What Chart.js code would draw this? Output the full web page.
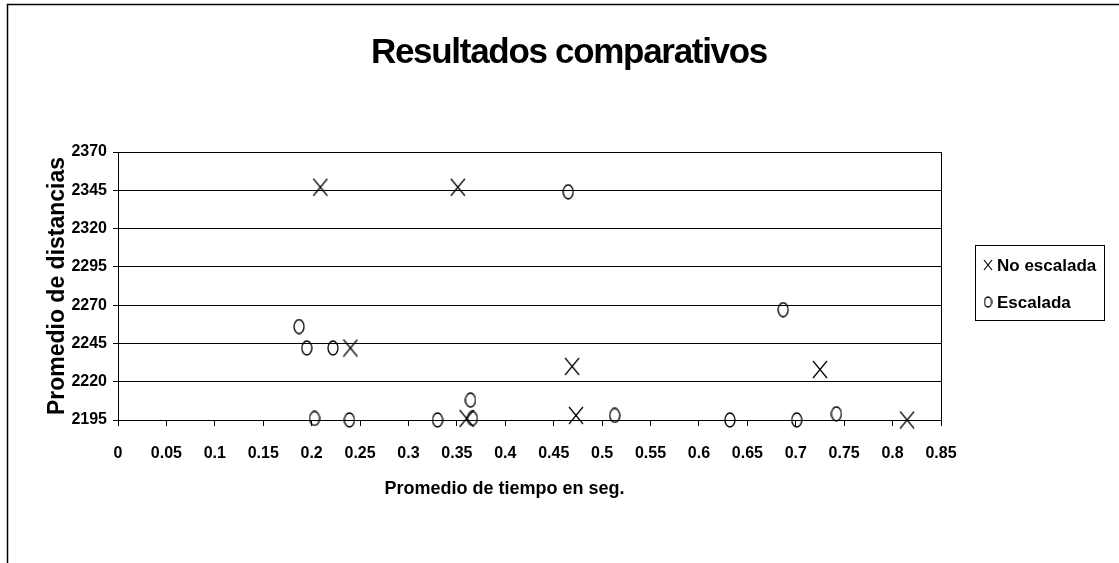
<!DOCTYPE html>
<html lang="es">
<head>
<meta charset="UTF-8">
<title>Resultados comparativos</title>
<script src="https://cdn.jsdelivr.net/npm/chart.js"></script>
<style>
  html, body { margin: 0; padding: 0; background: #fff; }
  #wrap { width: 1119px; height: 563px; position: relative; }
</style>
</head>
<body>
<div id="wrap"><canvas id="chart"></canvas></div>
<script>
// values
var noEscaladaX = [0.209, 0.351, 0.240, 0.469, 0.360, 0.473, 0.725, 0.815];
var noEscaladaY = [2347, 2347, 2242, 2230, 2196, 2198, 2228, 2195];
var escaladaX = [0.465, 0.187, 0.195, 0.222, 0.203, 0.239, 0.330, 0.364, 0.366, 0.513, 0.687, 0.632, 0.701, 0.742];
var escaladaY = [2344, 2256, 2242, 2242, 2196, 2195, 2195, 2208, 2196, 2198, 2267, 2195, 2195, 2199];
var seriesNames = ['No escalada', 'Escalada'];
var chartTitle = 'Resultados comparativos';
var xTitle = 'Promedio de tiempo en seg.';
var yTitle = 'Promedio de distancias';

var FONT = "'Liberation Sans', Arial, sans-serif";

function toPoints(xs, ys) {
    return xs.map(function (x, i) { return { x: x, y: ys[i] }; });
}

// marker images: an X and an upright ellipse
function makeX(w, h) {
    var c = document.createElement('canvas');
    c.width = w; c.height = h;
    var g = c.getContext('2d');
    g.strokeStyle = '#000';
    g.lineWidth = 1.2;
    g.beginPath();
    g.moveTo(1, 1); g.lineTo(w - 1, h - 1);
    g.moveTo(w - 1, 1); g.lineTo(1, h - 1);
    g.stroke();
    return c;
}
function makeO(w, h) {
    var c = document.createElement('canvas');
    c.width = w; c.height = h;
    var g = c.getContext('2d');
    g.strokeStyle = '#000';
    g.lineWidth = 1.3;
    g.beginPath();
    g.ellipse(w / 2, h / 2, w / 2 - 1, h / 2 - 1, 0, 0, Math.PI * 2);
    g.stroke();
    return c;
}
var markX = makeX(16, 19);
var markO = makeO(12, 16);
var legendMarks = [makeX(10, 12), makeO(9, 12)];

var frame = {
    id: 'frame',
    afterDraw: function (chart) {
        var ctx = chart.ctx, a = chart.chartArea;
        ctx.save();
        // outer frame (left and top edges visible)
        ctx.strokeStyle = '#000';
        ctx.lineWidth = 1.5;
        ctx.beginPath();
        ctx.moveTo(7.5, 600); ctx.lineTo(7.5, 4.5); ctx.lineTo(1200, 4.5);
        ctx.stroke();
        // plot box
        ctx.lineWidth = 1;
        ctx.strokeRect(Math.round(a.left) + 0.5, Math.round(a.top) + 0.5,
            Math.round(a.right - a.left), Math.round(a.bottom - a.top));
        // title
        ctx.fillStyle = '#000';
        ctx.font = 'bold 35px ' + FONT;
        ctx.letterSpacing = '-1.3px';
        ctx.textAlign = 'center';
        ctx.textBaseline = 'middle';
        ctx.fillText(chartTitle, 569, 53);
        // legend
        ctx.letterSpacing = '0px';
        ctx.lineWidth = 1;
        ctx.strokeRect(975.5, 245.5, 129, 75);
        ctx.font = 'bold 17px ' + FONT;
        ctx.textAlign = 'left';
        var rows = [265, 302];
        seriesNames.forEach(function (name, i) {
            var m = legendMarks[i];
            ctx.drawImage(m, 988 - m.width / 2, rows[i] - m.height / 2);
            ctx.fillText(name, 997, rows[i] + 1);
        });
        ctx.restore();
    }
};

new Chart(document.getElementById('chart'), {
    type: 'scatter',
    data: {
        datasets: [{
            label: seriesNames[0],
            data: toPoints(noEscaladaX, noEscaladaY),
            pointStyle: markX,
            clip: false
        }, {
            label: seriesNames[1],
            data: toPoints(escaladaX, escaladaY),
            pointStyle: markO,
            clip: false
        }]
    },
    options: {
        responsive: true,
        maintainAspectRatio: false,
        animation: false,
        layout: { padding: { left: 0, top: 152, right: 178, bottom: 0 } },
        plugins: {
            legend: { display: false },
            title: { display: false },
            tooltip: { enabled: false }
        },
        scales: {
            x: {
                type: 'linear',
                min: 0,
                max: 0.85,
                afterFit: function (s) { s.height = 143; },
                border: { color: '#000', width: 1 },
                grid: { drawOnChartArea: false, drawTicks: true, tickLength: 6, color: '#000' },
                ticks: {
                    stepSize: 0.05,
                    color: '#000',
                    padding: 18,
                    maxRotation: 0,
                    autoSkip: false,
                    font: { family: FONT, size: 16, weight: 'bold' },
                    callback: function (v) { return String(Number(v.toFixed(2))); }
                },
                title: {
                    display: true,
                    // trailing spaces pull the centred title a little left, as in the original
                    text: xTitle + '          ',
                    color: '#000',
                    padding: { top: 0, bottom: 63 },
                    font: { family: FONT, size: 18, weight: 'bold' }
                }
            },
            y: {
                min: 2195,
                max: 2370,
                afterFit: function (s) { s.width = 118; },
                border: { color: '#000', width: 1 },
                grid: { color: '#000', lineWidth: 1, tickLength: 5 },
                ticks: {
                    stepSize: 25,
                    color: '#000',
                    padding: 6,
                    font: { family: FONT, size: 16, weight: 'bold' },
                    callback: function (v) { return String(v); }
                },
                title: {
                    display: true,
                    text: yTitle,
                    color: '#000',
                    padding: { top: 44, bottom: 0 },
                    font: { family: FONT, size: 23, weight: 'bold' }
                }
            }
        }
    },
    plugins: [frame]
});
</script>
</body>
</html>
